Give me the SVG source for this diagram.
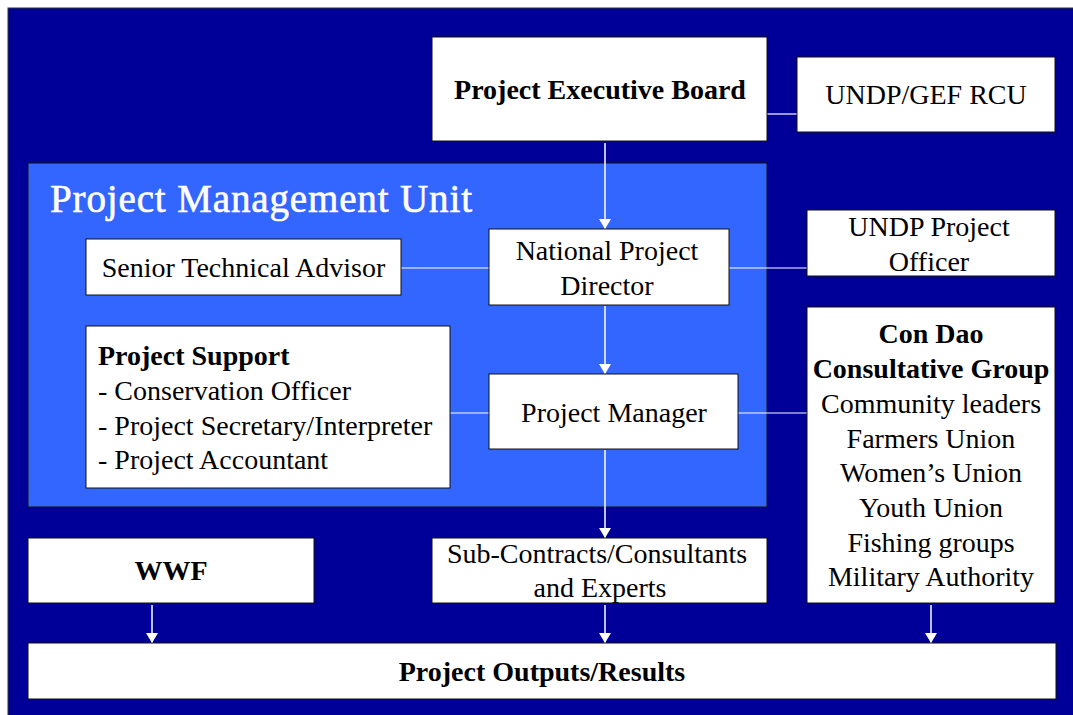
<svg xmlns="http://www.w3.org/2000/svg" width="1073" height="715" viewBox="0 0 1073 715">
  <style>
    .box { fill: #ffffff; stroke: #111111; stroke-width: 1; }
    .t { font-family: "Liberation Serif", "Times New Roman", serif; font-size: 28px; fill: #000000; }
    .c { text-anchor: middle; }
    .b { font-weight: bold; }
    .link { stroke: #ffffff; stroke-width: 1.2; fill: none; }
    .arrow { stroke: #ffffff; stroke-width: 1.5; fill: none; marker-end: url(#head); }
  </style>
  <defs>
    <marker id="head" viewBox="0 0 10 12" refX="10" refY="6" markerWidth="10" markerHeight="12" markerUnits="userSpaceOnUse" orient="auto">
      <path d="M0,0 L10,6 L0,12 z" fill="#ffffff"/>
    </marker>
  </defs>

  <!-- page -->
  <rect x="0" y="0" width="1073" height="715" fill="#ffffff"/>
  <rect x="8" y="8" width="1070" height="710" fill="#000099" stroke="#333333" stroke-width="1"/>

  <!-- management unit panel -->
  <g id="pmu">
    <rect x="28" y="163" width="739" height="344" fill="#3366ff" stroke="#111111" stroke-width="1"/>
    <text x="50" y="212" font-family="Liberation Serif, Times New Roman, serif" font-size="39" fill="#ffffff" stroke="#ffffff" stroke-width="0.6" textLength="422" lengthAdjust="spacing">Project Management Unit</text>
  </g>

  <!-- connectors -->
  <g id="connectors">
    <line class="link" x1="767" y1="114" x2="797" y2="114"/>
    <line class="link" x1="401" y1="268" x2="489" y2="268"/>
    <line class="link" x1="729" y1="268" x2="807" y2="268"/>
    <line class="link" x1="450" y1="413" x2="489" y2="413"/>
    <line class="link" x1="738" y1="413" x2="807" y2="413"/>
    <line class="arrow" x1="605" y1="143" x2="605" y2="229"/>
    <line class="arrow" x1="605" y1="306" x2="605" y2="374"/>
    <line class="arrow" x1="605" y1="450" x2="605" y2="538"/>
    <line class="arrow" x1="152" y1="605" x2="152" y2="643"/>
    <line class="arrow" x1="605" y1="605" x2="605" y2="643"/>
    <line class="arrow" x1="931" y1="605" x2="931" y2="643"/>
  </g>

  <g id="executive-board">
    <rect class="box" x="432" y="37" width="335" height="104"/>
    <text class="t c b" x="600" y="99">Project Executive Board</text>
  </g>

  <g id="rcu">
    <rect class="box" x="797" y="57" width="258" height="75"/>
    <text class="t c" x="926" y="104">UNDP/GEF RCU</text>
  </g>

  <g id="senior-advisor">
    <rect class="box" x="86" y="239" width="315" height="56"/>
    <text class="t c" x="243.5" y="277">Senior Technical Advisor</text>
  </g>

  <g id="national-director">
    <rect class="box" x="489" y="229" width="240" height="76"/>
    <text class="t c" x="607" y="260">National Project</text>
    <text class="t c" x="607" y="295">Director</text>
  </g>

  <g id="project-officer">
    <rect class="box" x="807" y="210" width="248" height="66"/>
    <text class="t c" x="929" y="236">UNDP Project</text>
    <text class="t c" x="929" y="271">Officer</text>
  </g>

  <g id="project-support">
    <rect class="box" x="86" y="326" width="364" height="162"/>
    <text class="t b" x="98" y="365">Project Support</text>
    <text class="t" x="98" y="400">- Conservation Officer</text>
    <text class="t" x="98" y="435">- Project Secretary/Interpreter</text>
    <text class="t" x="98" y="469">- Project Accountant</text>
  </g>

  <g id="project-manager">
    <rect class="box" x="489" y="374" width="249" height="75"/>
    <text class="t c" x="614" y="422">Project Manager</text>
  </g>

  <g id="consultative-group">
    <rect class="box" x="807" y="307" width="248" height="296"/>
    <text class="t c b" x="931" y="343">Con Dao</text>
    <text class="t c b" x="931" y="378">Consultative Group</text>
    <text class="t c" x="931" y="413">Community leaders</text>
    <text class="t c" x="931" y="448">Farmers Union</text>
    <text class="t c" x="931" y="482">Women’s Union</text>
    <text class="t c" x="931" y="517">Youth Union</text>
    <text class="t c" x="931" y="552">Fishing groups</text>
    <text class="t c" x="931" y="586">Military Authority</text>
  </g>

  <g id="wwf">
    <rect class="box" x="28" y="538" width="286" height="65"/>
    <text class="t c b" x="171" y="580">WWF</text>
  </g>

  <g id="subcontracts">
    <rect class="box" x="432" y="538" width="335" height="65"/>
    <text class="t c" x="597" y="563">Sub-Contracts/Consultants</text>
    <text class="t c" x="600" y="597">and Experts</text>
  </g>

  <g id="outputs">
    <rect class="box" x="28" y="643" width="1028" height="56"/>
    <text class="t c b" x="542" y="681">Project Outputs/Results</text>
  </g>
</svg>
